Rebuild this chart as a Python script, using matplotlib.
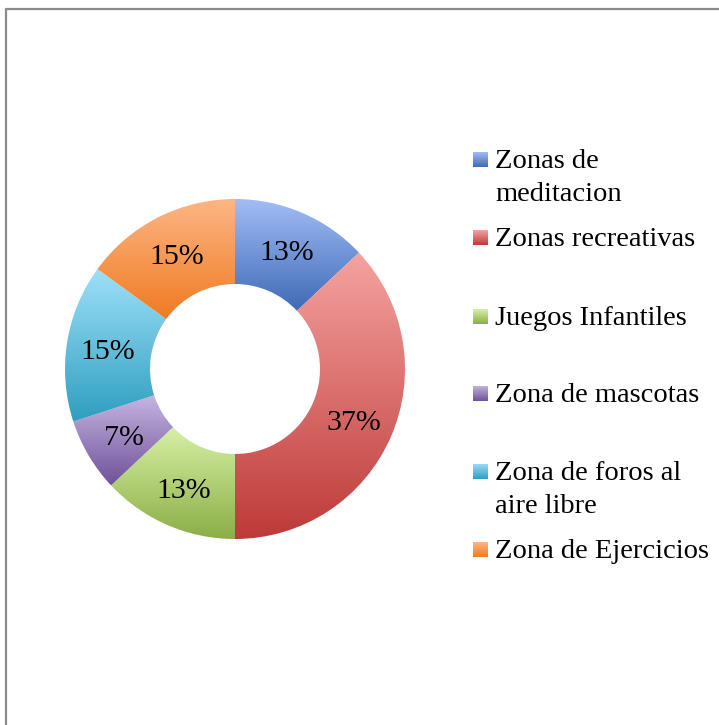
import numpy as np
import matplotlib
matplotlib.use("Agg")
import matplotlib.pyplot as plt
from matplotlib.lines import Line2D
from matplotlib.colors import to_rgb

# data
labels = ["Zonas de\nmeditacion", "Zonas recreativas", "Juegos Infantiles",
          "Zona de mascotas", "Zona de foros al\naire libre", "Zona de Ejercicios"]
values = [13, 37, 13, 7, 15, 15]
light_colors = ["#a3bdf5", "#f5a3a1", "#d7f0a6", "#c7b6e2", "#9fe0f8", "#fdb685"]
dark_colors = ["#3e6ab6", "#bd3a38", "#8bae46", "#6e5299", "#2e9ec0", "#ef7b22"]

W, H = 719, 725
fig = plt.figure(figsize=(W / 100, H / 100), dpi=100)
fig.patch.set_facecolor("white")

font = "Liberation Serif"
fsize = 20.5


def px(x, y):
    # pixel coords (from top-left) -> figure fraction
    return x / W, 1 - y / H


def gradient(c1, c2, n=256):
    a = np.array(to_rgb(c1))
    b = np.array(to_rgb(c2))
    t = np.linspace(0, 1, n)[:, None]
    return (a * (1 - t) + b * t)[:, None, :]


# donut
cx, cy, r = 235, 369, 170
ax = fig.add_axes([(cx - r) / W, 1 - (cy + r) / H, 2 * r / W, 2 * r / H])
wedges, texts, autotexts = ax.pie(
    values, startangle=90, counterclock=False, radius=1,
    wedgeprops=dict(width=0.5, linewidth=0),
    autopct=lambda p: f"{p:.0f}%", pctdistance=0.76,
    textprops=dict(fontsize=21.5, family=font, color="black"))

for w, c1, c2 in zip(wedges, light_colors, dark_colors):
    w.set_facecolor("none")
    ext = w.get_path().get_extents()
    im = ax.imshow(gradient(c1, c2), extent=(ext.x0, ext.x1, ext.y0, ext.y1),
                   aspect="auto", interpolation="bilinear", zorder=1)
    im.set_clip_path(w)

for t in autotexts:
    t.set_zorder(5)
    t.set_va("center_baseline")

ax.set_xlim(-1, 1)
ax.set_ylim(-1, 1)
ax.set_aspect("auto")
ax.axis("off")

# legend (drawn by hand)
baselines = [168, 246, 325, 402, 480, 558]
line_gap = 33
for lab, yb, c1, c2 in zip(labels, baselines, light_colors, dark_colors):
    x0, y0 = px(473, yb - 1)
    x1, y1 = px(488, yb - 16)
    lax = fig.add_axes([x0, y0, x1 - x0, y1 - y0])
    lax.imshow(gradient(c1, c2), aspect="auto", interpolation="bilinear")
    lax.axis("off")
    for i, line in enumerate(lab.split("\n")):
        tx, ty = px(495, yb + i * line_gap)
        fig.text(tx, ty, line, fontsize=fsize, family=font, va="baseline",
                 ha="left", color="black")

# outer frame (top and left edges only)
frame_col = "#8a8a8a"
fig.add_artist(Line2D([6 / W, 6 / W, 1], [0, 1 - 9 / H, 1 - 9 / H],
                      transform=fig.transFigure, color=frame_col, lw=1.6))

fig.savefig("out.png", dpi=100)
